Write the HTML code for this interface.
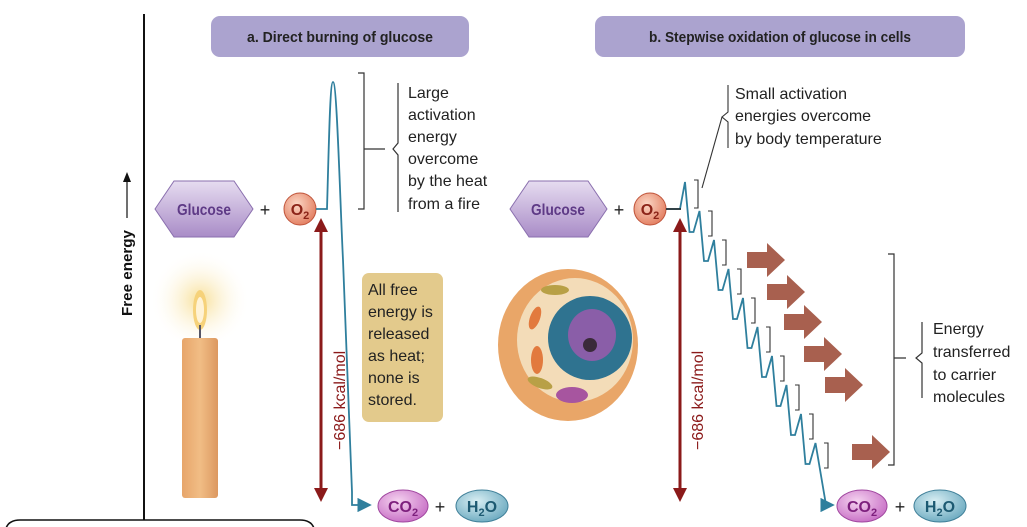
<!DOCTYPE html>
<html><head><meta charset="utf-8"><style>
html,body{margin:0;padding:0;background:#fff;}
svg{display:block;}
text{font-family:"Liberation Sans",sans-serif;}
</style></head><body>
<svg width="1027" height="527" viewBox="0 0 1027 527" xmlns="http://www.w3.org/2000/svg">
<defs>
<linearGradient id="hex" x1="0" y1="0" x2="0" y2="1"><stop offset="0" stop-color="#e6dcf0"/><stop offset="1" stop-color="#a98cc7"/></linearGradient>
<radialGradient id="o2" cx="0.4" cy="0.35" r="0.7"><stop offset="0" stop-color="#fbd6c4"/><stop offset="1" stop-color="#e27c5e"/></radialGradient>
<radialGradient id="co2" cx="0.4" cy="0.35" r="0.7"><stop offset="0" stop-color="#f5d3f0"/><stop offset="1" stop-color="#c66cc4"/></radialGradient>
<radialGradient id="h2o" cx="0.4" cy="0.35" r="0.7"><stop offset="0" stop-color="#d8eef3"/><stop offset="1" stop-color="#6aa9bf"/></radialGradient>
<radialGradient id="glow" cx="0.5" cy="0.5" r="0.5"><stop offset="0" stop-color="#f7dc8c" stop-opacity="0.9"/><stop offset="1" stop-color="#fff" stop-opacity="0"/></radialGradient>
<linearGradient id="candle" x1="0" y1="0" x2="1" y2="0"><stop offset="0" stop-color="#e7a56a"/><stop offset="0.5" stop-color="#f1bd85"/><stop offset="1" stop-color="#dc9860"/></linearGradient>
<marker id="ar" markerWidth="8" markerHeight="8" refX="7" refY="4" orient="auto"><path d="M0,0 L8,4 L0,8z" fill="#2f7f9d"/></marker>
</defs>

<line x1="144" y1="14" x2="144" y2="520" stroke="#111" stroke-width="2"/>
<path d="M5,527 L5,535 Q5,520 20,520 L300,520 Q315,520 315,535" fill="none" stroke="#111" stroke-width="1.5"/>
<line x1="127" y1="218" x2="127" y2="178" stroke="#111" stroke-width="1.2"/>
<path d="M123,182 L127,172 L131,182z" fill="#111"/>
<text transform="translate(132,316) rotate(-90)" font-size="15" font-weight="bold" fill="#111" textLength="86" lengthAdjust="spacingAndGlyphs">Free energy</text>

<rect x="211" y="16" width="258" height="41" rx="9" fill="#aba3cf"/>
<text x="340" y="42" font-size="15" font-weight="bold" text-anchor="middle" fill="#222" textLength="186" lengthAdjust="spacingAndGlyphs">a.  Direct burning of glucose</text>
<rect x="595" y="16" width="370" height="41" rx="9" fill="#aba3cf"/>
<text x="780" y="42" font-size="15" font-weight="bold" text-anchor="middle" fill="#222" textLength="262" lengthAdjust="spacingAndGlyphs">b.  Stepwise oxidation of glucose in cells</text>

<polygon points="155,209 174,181 234,181 253,209 234,237 174,237" fill="url(#hex)" stroke="#8a6fae" stroke-width="1"/>
<text x="204" y="215" font-size="16" font-weight="bold" fill="#5e3a86" text-anchor="middle" textLength="54" lengthAdjust="spacingAndGlyphs">Glucose</text>
<text x="265" y="216" font-size="18" fill="#222" text-anchor="middle">+</text>
<ellipse cx="300" cy="209" rx="16" ry="16" fill="url(#o2)" stroke="#c0553b"/>
<text x="300" y="215" font-size="16" font-weight="bold" fill="#8c2418" text-anchor="middle">O<tspan font-size="11" dy="4">2</tspan></text>

<circle cx="200" cy="300" r="50" fill="url(#glow)"/>
<rect x="182" y="338" width="36" height="160" rx="3" fill="url(#candle)"/>
<ellipse cx="200" cy="310" rx="7" ry="20" fill="#f6d27a"/>
<ellipse cx="200" cy="310" rx="4" ry="13" fill="#fff3d6"/>
<line x1="200" y1="325" x2="200" y2="338" stroke="#556" stroke-width="2"/>

<path d="M316,209 L327,209 C329,140 330,82 333,82 C337,82 340,200 343,260 L352,492 L352,505 L370,505" fill="none" stroke="#2f7f9d" stroke-width="1.8" marker-end="url(#ar)"/>
<line x1="321" y1="230" x2="321" y2="490" stroke="#8b1a1a" stroke-width="3"/>
<path d="M314,232 L321,218 L328,232z M314,488 L321,502 L328,488z" fill="#8b1a1a"/>
<text transform="translate(345,450) rotate(-90)" font-size="16" fill="#8b1a1a">−686 kcal/mol</text>
<path d="M358,73 L364,73 L364,209 L358,209 M364,149 L385,149" fill="none" stroke="#333" stroke-width="1.2"/>
<path d="M398,83 L398,143 L393,149 L398,155 L398,212" fill="none" stroke="#333" stroke-width="1.2"/>
<g font-size="16" fill="#222">
<text x="408" y="98">Large</text><text x="408" y="120">activation</text><text x="408" y="142">energy</text><text x="408" y="164">overcome</text><text x="408" y="186">by the heat</text><text x="408" y="209">from a fire</text>
</g>
<rect x="362" y="273" width="81" height="149" rx="7" fill="#e3ca8c"/>
<g font-size="16" fill="#222">
<text x="368" y="295">All free</text><text x="368" y="317">energy is</text><text x="368" y="339">released</text><text x="368" y="361">as heat;</text><text x="368" y="383">none is</text><text x="368" y="405">stored.</text>
</g>
<ellipse cx="403" cy="506" rx="25" ry="16" fill="url(#co2)" stroke="#a0479f"/>
<text x="403" y="512" font-size="16" font-weight="bold" fill="#7d1f7d" text-anchor="middle">CO<tspan font-size="11" dy="4">2</tspan></text>
<text x="440" y="513" font-size="18" fill="#222" text-anchor="middle">+</text>
<ellipse cx="482" cy="506" rx="26" ry="16" fill="url(#h2o)" stroke="#3f7f98"/>
<text x="482" y="512" font-size="16" font-weight="bold" fill="#1d5a72" text-anchor="middle">H<tspan font-size="11" dy="4">2</tspan><tspan dy="-4">O</tspan></text>

<polygon points="510,209 529,181 588,181 607,209 588,237 529,237" fill="url(#hex)" stroke="#8a6fae" stroke-width="1"/>
<text x="558" y="215" font-size="16" font-weight="bold" fill="#5e3a86" text-anchor="middle" textLength="54" lengthAdjust="spacingAndGlyphs">Glucose</text>
<text x="619" y="216" font-size="18" fill="#222" text-anchor="middle">+</text>
<ellipse cx="650" cy="209" rx="16" ry="16" fill="url(#o2)" stroke="#c0553b"/>
<text x="650" y="215" font-size="16" font-weight="bold" fill="#8c2418" text-anchor="middle">O<tspan font-size="11" dy="4">2</tspan></text>

<g>
<ellipse cx="568" cy="345" rx="70" ry="76" fill="#e9a668"/>
<ellipse cx="575" cy="340" rx="58" ry="62" fill="#f3dcb8"/>
<ellipse cx="590" cy="338" rx="42" ry="42" fill="#2f7390"/>
<ellipse cx="592" cy="335" rx="24" ry="26" fill="#8a5ea8"/>
<circle cx="590" cy="345" r="7" fill="#3a2a3a"/>
<ellipse cx="572" cy="395" rx="16" ry="8" fill="#a7559f"/>
<ellipse cx="535" cy="318" rx="5" ry="12" fill="#e27a3e" transform="rotate(20 535 318)"/>
<ellipse cx="537" cy="360" rx="6" ry="14" fill="#e27a3e"/>
<ellipse cx="555" cy="290" rx="14" ry="5" fill="#b8a046"/>
<ellipse cx="540" cy="383" rx="13" ry="5" fill="#b8a046" transform="rotate(20 540 383)"/>
</g>

<line x1="680" y1="230" x2="680" y2="490" stroke="#8b1a1a" stroke-width="3"/>
<path d="M673,232 L680,218 L687,232z M673,488 L680,502 L687,488z" fill="#8b1a1a"/>
<text transform="translate(703,450) rotate(-90)" font-size="16" fill="#8b1a1a">−686 kcal/mol</text>

<path d="M666,209 L680,209 L685,182 L689.5,232 L693.5,232 L699.5,211 L704,261 L708,261 L714,240 L718.5,290 L722.5,290 L728.5,269 L733,319 L737,319 L743,298 L747.5,348 L751.5,348 L757.5,327 L762,377 L766,377 L772,356 L776.5,406 L780.5,406 L786.5,385 L791,435 L795,435 L801,414 L805.5,464 L809.5,464 L815.5,443 L826,505 L833,505" fill="none" stroke="#2f7f9d" stroke-width="1.8" marker-end="url(#ar)"/>
<line x1="666" y1="209" x2="681" y2="209" stroke="#222" stroke-width="1.5"/>
<g fill="none" stroke="#333" stroke-width="1.1">
<path d="M694,180 L698,180 L698,208 L694,208"/>
<path d="M708,211 L712,211 L712,236 L708,236"/>
<path d="M722,240 L726,240 L726,265 L722,265"/>
<path d="M737,269 L741,269 L741,294 L737,294"/>
<path d="M751,298 L755,298 L755,323 L751,323"/>
<path d="M766,327 L770,327 L770,352 L766,352"/>
<path d="M780,356 L784,356 L784,381 L780,381"/>
<path d="M795,385 L799,385 L799,410 L795,410"/>
<path d="M809,414 L813,414 L813,439 L809,439"/>
<path d="M824,443 L828,443 L828,468 L824,468"/>
</g>
<path d="M702,188 L722,117" stroke="#333" stroke-width="1.1" fill="none"/>
<path d="M728,85 L728,112 L722,117 L728,122 L728,148" stroke="#333" stroke-width="1.1" fill="none"/>
<g font-size="16" fill="#222">
<text x="735" y="99">Small activation</text><text x="735" y="121">energies overcome</text><text x="735" y="144">by body temperature</text>
</g>
<g fill="#a8604f">
<path d="M747,252 L767,252 L767,243 L785,260 L767,277 L767,268 L747,268z"/>
<path d="M767,284 L787,284 L787,275 L805,292 L787,309 L787,300 L767,300z"/>
<path d="M784,314 L804,314 L804,305 L822,322 L804,339 L804,330 L784,330z"/>
<path d="M804,346 L824,346 L824,337 L842,354 L824,371 L824,362 L804,362z"/>
<path d="M825,377 L845,377 L845,368 L863,385 L845,402 L845,393 L825,393z"/>
<path d="M852,444 L872,444 L872,435 L890,452 L872,469 L872,460 L852,460z"/>
</g>
<path d="M888,254 L894,254 L894,465 L888,465 M894,358 L906,358" fill="none" stroke="#333" stroke-width="1.2"/>
<path d="M922,322 L922,353 L916,358 L922,363 L922,398" fill="none" stroke="#333" stroke-width="1.2"/>
<g font-size="16" fill="#222">
<text x="933" y="334">Energy</text><text x="933" y="357">transferred</text><text x="933" y="380">to carrier</text><text x="933" y="402">molecules</text>
</g>
<ellipse cx="862" cy="506" rx="25" ry="16" fill="url(#co2)" stroke="#a0479f"/>
<text x="862" y="512" font-size="16" font-weight="bold" fill="#7d1f7d" text-anchor="middle">CO<tspan font-size="11" dy="4">2</tspan></text>
<text x="900" y="513" font-size="18" fill="#222" text-anchor="middle">+</text>
<ellipse cx="940" cy="506" rx="26" ry="16" fill="url(#h2o)" stroke="#3f7f98"/>
<text x="940" y="512" font-size="16" font-weight="bold" fill="#1d5a72" text-anchor="middle">H<tspan font-size="11" dy="4">2</tspan><tspan dy="-4">O</tspan></text>
</svg>
</body></html>
